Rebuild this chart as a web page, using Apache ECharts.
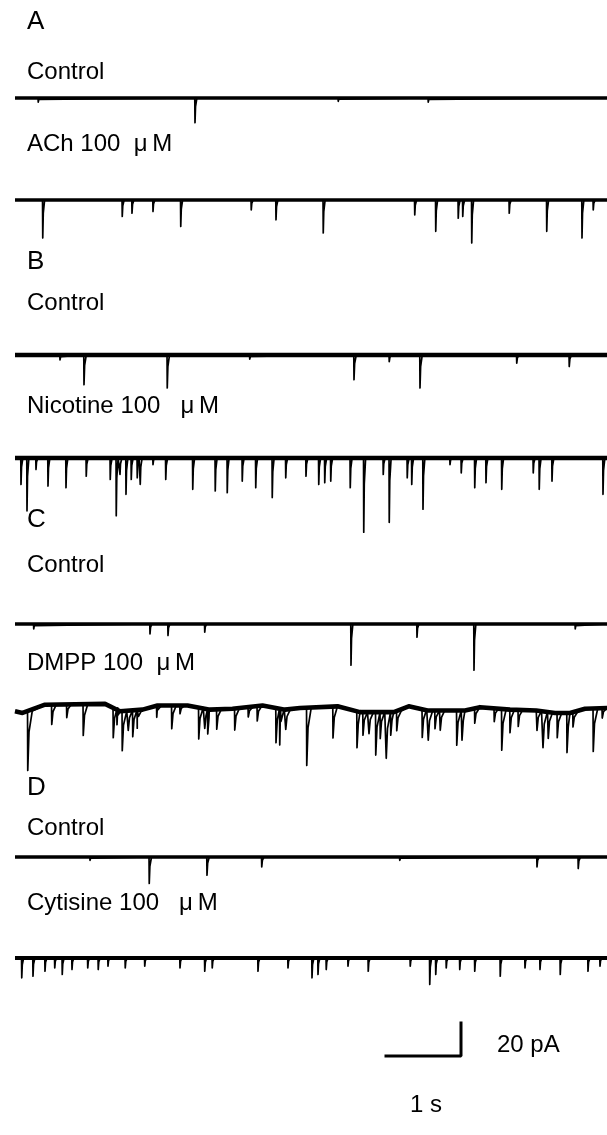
<!DOCTYPE html>
<html>
<head>
<meta charset="utf-8">
<script src="https://cdn.jsdelivr.net/npm/echarts@6/dist/echarts.min.js"></script>
<style>
  html, body { margin: 0; padding: 0; background: #fff; }
  #main { width: 607px; height: 1135px; }
</style>
</head>
<body>
<div id="main"></div>
<script>
// each event: [time (s), amplitude (pA, inward)]
var aControl = [[0.31, 2.5], [2.40, 15], [4.31, 2], [5.51, 2.5]];
var aAch = [[0.37, 23], [1.43, 10], [1.56, 8], [1.84, 7], [2.21, 16], [3.15, 6], [3.48, 12],
  [4.11, 20], [5.33, 9], [5.61, 19], [5.91, 11], [5.97, 10], [6.09, 26], [6.59, 8],
  [7.09, 19], [7.56, 23], [7.71, 6]];
var bControl = [[0.6, 3], [0.92, 18], [2.03, 20], [3.13, 2.5], [4.52, 15], [4.99, 4],
  [5.40, 20], [6.69, 5], [7.39, 7]];
var bNicotine = [[0.08, 16], [0.16, 32], [0.28, 7], [0.44, 17], [0.68, 18], [0.95, 11],
  [1.27, 13], [1.35, 35], [1.40, 10], [1.48, 22], [1.55, 13], [1.63, 12], [1.67, 16],
  [1.84, 4], [2.01, 13], [2.37, 19], [2.67, 20], [2.83, 21], [3.03, 14], [3.21, 18],
  [3.43, 24], [3.61, 12], [3.88, 11], [4.05, 16], [4.13, 15], [4.21, 14], [4.47, 18],
  [4.65, 45], [4.91, 10], [4.99, 39], [5.23, 12], [5.29, 16], [5.44, 31], [5.80, 4],
  [5.95, 9], [6.13, 18], [6.28, 15], [6.49, 19], [6.91, 9], [6.99, 19], [7.16, 14],
  [7.84, 22]];
var cControl = [[0.25, 3], [1.80, 6], [2.04, 7], [2.53, 5], [4.48, 25], [5.36, 8],
  [6.12, 28], [7.47, 3]];
var cDmpp = [[0.17, 36], [0.49, 12], [0.69, 8], [0.91, 19], [1.31, 18], [1.36, 9],
  [1.43, 24], [1.51, 12], [1.57, 16], [1.63, 11], [1.89, 7], [2.09, 14], [2.20, 5],
  [2.45, 19], [2.53, 12], [2.57, 15], [2.69, 12], [2.93, 13], [3.11, 6], [3.23, 9],
  [3.48, 21], [3.53, 22], [3.61, 12], [3.89, 35], [4.24, 19], [4.56, 22], [4.64, 14],
  [4.72, 13], [4.81, 26], [4.87, 16], [4.95, 28], [5.01, 14], [5.09, 12], [5.43, 17],
  [5.51, 18], [5.60, 11], [5.67, 12], [5.89, 21], [5.96, 18], [6.13, 9], [6.39, 8],
  [6.49, 25], [6.60, 14], [6.71, 10], [6.96, 12], [7.04, 22], [7.11, 16], [7.23, 15],
  [7.36, 24], [7.44, 9], [7.71, 26], [7.83, 6]];
// slow baseline level of the DMPP record: [time (s), pA]
var cDmppDrift = [[0, -2], [0.1, -3], [0.4, 2], [1.2, 2.5], [1.4, -2], [1.7, -1],
  [1.9, 1.5], [2.3, 1.5], [2.6, -1], [2.9, -0.5], [3.3, 1.5], [3.6, -1], [3.8, 0],
  [4.3, 1], [4.6, -2.5], [5.05, -2.5], [5.25, 1], [5.5, -1.5], [6.0, -1.5], [6.2, 0.5],
  [6.6, -1], [6.95, -1.5], [7.2, -3], [7.4, -3], [7.6, -0.5], [7.9, 0]];
var dControl = [[1.0, 2], [1.79, 16], [2.56, 11], [3.29, 6], [5.13, 2], [6.96, 6], [7.51, 7]];
var dCytisine = [[0.09, 12], [0.24, 11], [0.40, 8], [0.53, 6], [0.63, 10], [0.76, 7],
  [0.97, 6], [1.11, 7], [1.24, 5], [1.47, 6], [1.73, 5], [2.20, 6], [2.53, 8], [2.63, 6],
  [3.24, 8], [3.64, 6], [3.96, 12], [4.04, 10], [4.15, 7], [4.44, 5], [4.71, 8],
  [5.27, 5], [5.53, 16], [5.61, 10], [5.75, 6], [5.93, 7], [6.13, 8], [6.47, 11],
  [6.80, 6], [7.00, 7], [7.27, 10], [7.64, 8], [7.80, 5]];

var panelLetters = ['A', 'B', 'C', 'D'];
var traceLabels = ['Control', 'ACh 100  \u03bc\u2009M', 'Control', 'Nicotine 100   \u03bc\u2009M',
  'Control', 'DMPP 100  \u03bc\u2009M', 'Control', 'Cytisine 100   \u03bc\u2009M'];
var scaleBar = [[0, 0], [1, 0], [1, 20]];   // 1 s, 20 pA
var scaleLabels = ['20 pA', '1 s'];

var traces = [aControl, aAch, bControl, bNicotine, cControl, cDmpp, dControl, dCytisine];
var drifts = [null, null, null, null, null, cDmppDrift, null, null];

// layout (px) and per-trace look
var PX_PER_S = 75, PX_PER_PA = 1.65, TMAX = 592 / 75;
var baselines = [98, 200, 355, 458, 624, 708, 857, 958];
var labelY = [72, 144, 303, 406, 565, 663, 828, 903];
var letterY = [22, 262, 520, 788];
var noiseWidth = [3.4, 3.4, 4.4, 4.4, 3.4, 4.6, 3.6, 4.2];
var decay = [0.025, 0.025, 0.03, 0.025, 0.025, 0.06, 0.03, 0.025];
var Y_TOP = 10, Y_BOT = -50;

// baseline level under an event
function levelAt(drift, t) {
  if (!drift) return 0;
  for (var i = 1; i < drift.length; i++) {
    if (drift[i][0] >= t) {
      var p = drift[i - 1], q = drift[i];
      return p[1] + (q[1] - p[1]) * (t - p[0]) / (q[0] - p[0]);
    }
  }
  return drift[drift.length - 1][1];
}

function baseLine(drift) {
  return drift ? drift.map(function (d) { return [d[0], d[1]]; }) : [[0, 0], [TMAX, 0]];
}

function buildTrace(events, drift, tau) {
  var pts = baseLine(drift);
  events.forEach(function (e) {
    var t = e[0], a = e[1], b = levelAt(drift, t);
    pts.push([t - 0.003, b]);
    pts.push([t, b - a]);
    pts.push([t + tau * 0.28, b - a * 0.35]);
    pts.push([t + tau, b]);
  });
  pts.sort(function (p, q) { return p[0] - q[0]; });
  return pts;
}

var grids = [], xAxes = [], yAxes = [], series = [];
traces.forEach(function (ev, i) {
  grids.push({
    left: 15, width: TMAX * PX_PER_S,
    top: baselines[i] - Y_TOP * PX_PER_PA,
    height: (Y_TOP - Y_BOT) * PX_PER_PA
  });
  xAxes.push({ gridIndex: i, type: 'value', min: 0, max: TMAX, show: false });
  yAxes.push({ gridIndex: i, type: 'value', min: Y_BOT, max: Y_TOP, show: false });
  // noisy baseline band
  series.push({
    type: 'line', xAxisIndex: i, yAxisIndex: i,
    data: baseLine(drifts[i]),
    showSymbol: false, clip: false, animation: false,
    lineStyle: { color: '#000', width: noiseWidth[i], join: 'round' }
  });
  // synaptic currents
  series.push({
    type: 'line', xAxisIndex: i, yAxisIndex: i,
    data: buildTrace(ev, drifts[i], decay[i]),
    showSymbol: false, clip: false, animation: false,
    lineStyle: { color: '#000', width: 1.7, join: 'round' }
  });
});

// scale bar
var sb = traces.length;
grids.push({ left: 386, width: 1 * PX_PER_S, top: 1023, height: 20 * PX_PER_PA });
xAxes.push({ gridIndex: sb, type: 'value', min: 0, max: 1, show: false });
yAxes.push({ gridIndex: sb, type: 'value', min: 0, max: 20, show: false });
series.push({
  type: 'line', xAxisIndex: sb, yAxisIndex: sb, data: scaleBar,
  showSymbol: false, clip: false, animation: false,
  lineStyle: { color: '#000', width: 3, cap: 'square' }
});

var font = '"Liberation Sans", Arial, sans-serif';
var graphic = [];
panelLetters.forEach(function (s, i) {
  graphic.push({ type: 'text', left: 27, top: letterY[i] - 13,
    style: { text: s, font: '26px ' + font, fill: '#000' } });
});
traceLabels.forEach(function (s, i) {
  graphic.push({ type: 'text', left: 27, top: labelY[i] - 12,
    style: { text: s, font: '24px ' + font, fill: '#000' } });
});
graphic.push({ type: 'text', left: 497, top: 1033,
  style: { text: scaleLabels[0], font: '24px ' + font, fill: '#000' } });
graphic.push({ type: 'text', left: 410, top: 1093,
  style: { text: scaleLabels[1], font: '24px ' + font, fill: '#000' } });

var chart = echarts.init(document.getElementById('main'));
chart.setOption({
  backgroundColor: '#fff',
  animation: false,
  grid: grids,
  xAxis: xAxes,
  yAxis: yAxes,
  series: series,
  graphic: graphic
});
</script>
</body>
</html>
